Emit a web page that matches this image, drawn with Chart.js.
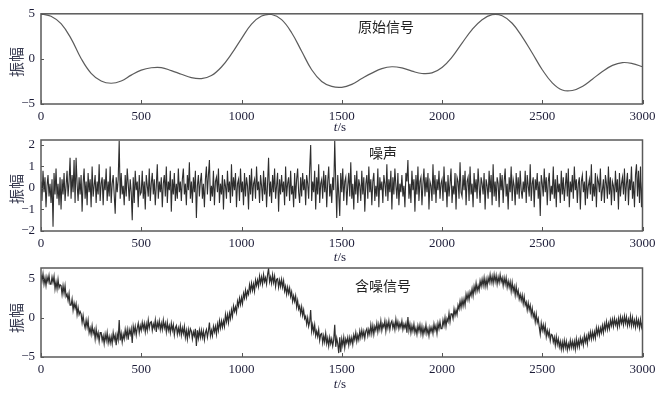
<!DOCTYPE html>
<html>
<head>
<meta charset="utf-8">
<script src="https://cdn.jsdelivr.net/npm/chart.js@4/dist/chart.umd.min.js"></script>
<style>
  html, body { margin: 0; padding: 0; background: #fff; }
  #wrap { position: relative; width: 666px; height: 395px; }
  #wrap canvas { position: absolute; left: 0; top: 0; }
</style>
</head>
<body>
<div id="wrap">
  <canvas id="c1" width="666" height="395"></canvas>
  <canvas id="c2" width="666" height="395"></canvas>
  <canvas id="c3" width="666" height="395"></canvas>
</div>
<script>
// x axis ticks (time, s)
const timeTicks = [0, 500, 1000, 1500, 2000, 2500, 3000];

// original signal, one value every 50 s
const signalStep = 50;
const signalValues = [
  5.0, 4.72, 3.9, 2.25, 0.05, -1.6, -2.45, -2.7, -2.45, -1.8,
  -1.25, -0.98, -0.96, -1.3, -1.7, -2.08, -2.18, -1.85, -0.9, 0.55,
  2.25, 3.85, 4.75, 4.92, 4.35, 2.9, 0.85, -1.2, -2.5, -3.05,
  -3.15, -2.82, -2.18, -1.58, -1.08, -0.87, -1.0, -1.35, -1.62, -1.55,
  -0.95, 0.2, 1.75, 3.25, 4.35, 4.9, 4.78, 3.95, 2.45, 0.65,
  -1.2, -2.65, -3.45, -3.5, -3.05, -2.25, -1.4, -0.72, -0.41, -0.52,
  -0.87
];

// noise, one value every 5 s
const noiseStep = 5;
const noiseValues = [
  0.3, -0.6, 0.8, -0.2, 0.5, -0.9, 0.1, 0.6, -0.4, 0.2, -0.7, 0.4, -1.8, 0.7, -0.3, 0.9, -0.5, 0.2, -0.8, 0.5,
  -1.0, 0.4, -0.3, 0.7, -0.6, 0.1, 0.8, -0.4, 0.3, 1.4, -0.5, 0.6, -0.2, 1.3, -0.7, 1.4, 0.2, -0.6, 0.5, -0.3,
  0.6, -1.1, 0.2, 0.9, -0.5, 0.3, -0.8, 0.7, -0.2, 0.4, -0.9, 1.0, -0.4, 0.1, 0.6, -0.7, 0.3, -0.3, 1.1, -0.6,
  0.2, 0.5, -0.8, 0.4, -0.1, 0.9, -0.6, 0.3, -0.4, 1.0, -0.7, 0.2, 0.6, -0.3, -1.2, 0.5, -0.2, 0.4, 2.2, -0.5,
  0.7, -0.3, 0.1, -0.8, 0.6, -0.4, 0.9, 0.2, -0.6, 0.4, -0.2, -1.5, 0.5, -0.7, 0.8, -0.1, 0.3, -0.9, 0.6, -0.3,
  -0.2, 0.8, -0.5, 0.3, -1.0, 0.6, 0.1, -0.4, 0.9, -0.6, 0.2, 0.7, -0.3, 0.4, -0.8, 0.1, 1.1, -0.5, 0.3, -0.2,
  0.5, -0.9, 0.2, 0.6, -0.4, 1.0, -0.7, 0.3, -0.1, 0.8, -1.1, 0.4, -0.3, 0.7, -0.6, 0.2, -0.5, 0.9, -0.2, 0.3,
  -0.6, 0.4, 0.9, -0.3, 0.2, -0.8, 0.6, -0.1, 1.2, -0.5, 0.3, -0.7, 0.5, -0.2, 0.8, -1.4, 0.1, 0.6, -0.4, 0.3,
  0.7, -0.5, 0.2, -0.9, 0.4, 1.0, -0.3, 0.6, 1.3, -0.6, 0.1, -0.4, 0.8, -0.8, 0.3, 0.5, -0.2, 0.9, -0.7, 0.2,
  -0.3, 0.6, -1.0, 0.4, 0.1, -0.5, 0.8, -0.2, 0.3, -0.7, 1.1, -0.4, 0.5, -0.1, 0.7, -0.9, 0.2, 0.4, -0.6, 0.9,
  -0.2, 0.3, -0.8, 0.7, -0.4, 0.5, 0.1, -1.0, 0.6, -0.3, 0.9, -0.6, 0.2, 0.4, -0.5, 1.0, -0.1, 0.3, -0.7, 0.6,
  0.1, -0.6, 0.8, -0.3, 0.5, -0.9, 0.2, 1.4, -0.4, 0.3, -0.7, 0.6, -0.2, 0.9, -0.5, 0.1, 0.7, -1.1, 0.4, -0.3,
  0.6, -0.2, 0.3, -0.8, 1.0, -0.4, 0.2, 0.5, -0.6, 0.8, -0.3, 0.1, -0.9, 0.7, -0.5, 0.4, 0.9, -0.2, -0.7, 0.5,
  -0.4, 0.7, -0.1, 0.4, -0.8, 0.6, 0.2, -0.5, 0.9, 2.0, -0.6, 0.3, -0.2, 0.8, -1.0, 0.5, -0.3, 1.1, -0.7, 0.2,
  0.4, -0.5, 0.8, -0.2, 0.6, -0.9, 0.3, 1.0, -0.4, 0.2, -0.7, 0.5, -0.1, 2.2, 0.3, -1.4, 0.6, -0.3, -1.3, 0.7,
  -0.2, 0.9, -0.6, 0.3, 0.5, -0.8, 0.1, 0.7, -0.4, 1.2, -0.5, 0.2, -1.0, 0.6, -0.3, 0.8, -0.7, 0.4, 0.1, -0.6,
  0.8, -0.3, 0.5, -1.1, 0.2, 0.6, -0.5, 1.0, -0.2, 0.4, -0.8, 0.3, 0.7, -0.6, 0.1, -0.4, 0.9, -0.9, 0.5, -0.1,
  0.3, -0.7, 0.6, 0.2, -0.4, 1.1, -0.6, 0.4, -0.2, 0.8, -1.0, 0.5, -0.3, 0.9, 0.1, -0.5, 0.7, -0.8, 0.2, -0.2,
  0.6, -0.4, 0.1, -0.9, 0.7, 0.3, 1.3, -0.5, 0.2, -0.7, 0.8, -0.1, 0.4, -1.1, 0.6, -0.3, 1.0, -0.6, 0.3, 0.5,
  -0.8, 0.2, 0.9, -0.4, 0.5, -0.2, 0.7, -1.0, 0.3, 0.1, -0.6, 1.1, -0.3, 0.6, -0.7, 0.4, -0.1, 0.8, -0.5, 0.2,
  0.4, -0.6, 1.0, -0.2, 0.3, -0.9, 0.6, -0.4, 0.2, 0.9, -0.7, 0.1, -0.3, 0.7, -1.0, 0.5, 0.3, -0.5, 1.2, -0.2,
  -0.4, 0.6, -0.1, 0.8, -0.8, 0.3, 0.5, -0.6, 1.0, -0.3, 0.2, -0.9, 0.7, -0.2, 0.4, -0.5, 0.9, 0.1, -0.7, 0.5,
  0.2, -0.3, 0.7, -1.0, 0.4, 0.1, -0.5, 0.8, -0.2, 0.6, -0.8, 1.1, -0.4, 0.3, -0.6, 0.5, 0.2, -0.9, 0.7, -0.1,
  0.6, -0.7, 0.3, 0.9, -0.4, 0.2, -1.0, 0.5, -0.2, 1.0, -0.6, 0.4, 0.1, -0.8, 0.7, -0.3, 0.5, -0.5, 0.8, -0.1,
  -0.5, 0.3, -0.2, 0.8, -0.7, 0.6, 0.1, -0.4, 1.1, -0.6, 0.2, 0.5, -0.9, 0.4, -0.1, 0.7, -0.5, 0.3, -1.3, 0.6,
  0.2, -0.4, 0.9, -0.2, 0.5, -0.8, 0.3, 0.7, -0.6, 0.1, -0.3, 1.0, -0.5, 0.4, -0.9, 0.6, -0.2, 0.2, -0.7, 0.8,
  -0.3, 0.5, -0.6, 0.1, 0.7, -0.4, 0.9, -0.9, 0.3, -0.2, 0.6, -0.5, 1.0, -0.1, 0.4, -0.7, 0.2, 0.5, -1.0, 0.3,
  0.6, -0.2, 0.3, -0.8, 0.8, -0.5, 0.1, 0.4, -0.3, 1.1, -0.6, 0.2, -0.4, 0.7, -0.9, 0.5, 0.3, -0.2, 0.9, -0.6,
  -0.1, 0.4, -0.7, 0.6, 0.2, -0.5, 1.0, -0.3, 0.5, -0.8, 0.3, 0.1, -0.6, 0.8, -0.2, 0.4, -1.0, 0.7, -0.4, 0.2,
  0.5, -0.3, 0.9, -0.6, 0.2, 0.7, -0.8, 0.4, -0.1, 1.0, -0.5, 0.3, -0.9, 0.6, 1.1, -0.4, 0.8, -0.7, 1.0, -0.9,
  0.3
];

// noisy signal, one value every 5 s
const noisyStep = 5;
const noisyValues = [
  5.5, 4.7, 5.6, 4.3, 5.1, 4.1, 5.2, 4.6, 5.4, 4.3,
  4.3, 5.2, 4.5, 5.3, 3.7, 4.6, 3.7, 4.9, 3.8, 4.2,
  4.1, 3.0, 4.1, 3.1, 4.1, 2.7, 3.0, 2.2, 3.1, 1.6,
  1.6, 2.4, 1.0, 1.9, 1.2, 1.8, 0.4, 1.3, 0.4, 0.8,
  0.5, -0.6, 0.3, -0.7, -1.3, -0.3, -1.2, -0.3, -1.9, -1.3,
  -2.1, -1.0, -2.0, -1.5, -2.7, -1.4, -2.5, -1.9, -3.0, -1.9,
  -1.9, -2.9, -2.3, -3.3, -2.1, -2.9, -1.9, -3.2, -2.4, -3.2,
  -2.4, -3.3, -1.9, -2.8, -2.2, -3.5, -2.1, -2.8, -0.3, -2.9,
  -2.0, -3.1, -2.1, -2.7, -1.5, -2.4, -1.5, -2.8, -1.5, -2.1,
  -1.4, -3.2, -1.1, -1.9, -1.1, -2.2, -1.3, -0.7, -1.9, -1.0,
  -1.6, -0.6, -1.4, -0.7, -1.8, -0.8, -1.6, -0.3, -1.3, -0.6,
  -0.5, -1.6, -0.8, -1.3, -0.3, -1.8, -0.6, -1.2, -0.4, -1.5,
  -0.7, -1.5, -0.3, -1.3, -0.7, -1.8, -0.6, -1.6, -1.0, -1.9,
  -0.7, -1.6, -0.9, -2.2, -1.3, -1.0, -2.1, -1.3, -2.0, -1.0,
  -2.2, -1.3, -2.0, -1.1, -2.5, -1.6, -2.7, -1.5, -2.3, -1.4,
  -1.7, -2.7, -1.8, -2.3, -1.4, -3.6, -1.6, -2.6, -1.6, -2.5,
  -1.6, -2.5, -1.7, -2.8, -1.9, -1.5, -2.5, -1.7, -0.6, -2.3,
  -1.6, -2.3, -1.1, -1.8, -1.1, -2.1, -0.8, -1.6, -0.4, -1.3,
  -0.4, -1.2, -0.4, -1.1, 0.4, -0.5, 0.4, -0.6, 0.6, -0.1,
  1.0, 0.2, 1.5, 0.8, 1.4, 0.7, 2.1, 1.5, 2.5, 1.7,
  2.6, 1.8, 3.1, 2.5, 3.5, 2.6, 3.4, 3.0, 4.2, 3.4,
  4.4, 3.5, 4.3, 3.4, 4.8, 4.1, 4.8, 4.0, 5.3, 4.4,
  5.2, 4.3, 5.5, 4.6, 5.1, 4.3, 5.5, 6.3, 4.6, 5.2,
  4.4, 5.5, 4.5, 5.3, 4.0, 4.9, 5.0, 3.9, 4.8, 4.0,
  4.9, 3.9, 4.7, 3.4, 4.0, 3.0, 3.9, 3.1, 3.8, 2.7,
  3.3, 2.1, 2.8, 2.1, 2.8, 1.4, 2.2, 1.1, 1.5, 0.5,
  1.4, 0.3, 1.0, -0.1, 0.2, -0.8, 0.0, -1.1, -0.5, 1.0,
  -1.7, -0.9, -1.8, -0.9, -2.3, -1.7, -2.4, -1.5, -2.9, -2.1,
  -2.0, -3.2, -2.3, -3.1, -2.0, -3.3, -2.6, -3.6, -2.5, -3.3,
  -2.7, -3.6, -2.8, -0.9, -3.7, -2.6, -3.3, -4.5, -2.5, -4.4,
  -2.7, -3.5, -2.5, -3.8, -2.7, -3.2, -2.5, -3.5, -2.5, -3.2,
  -2.5, -3.4, -2.2, -2.8, -1.9, -3.0, -2.2, -2.8, -1.7, -2.5,
  -1.6, -2.4, -1.7, -2.6, -1.7, -1.4, -2.3, -1.5, -2.1, -0.9,
  -2.0, -1.0, -2.1, -1.1, -1.6, -0.7, -1.8, -0.8, -1.5, -0.4,
  -1.6, -0.8, -1.2, -0.4, -1.7, -0.6, -1.3, -0.4, -1.5, -0.7,
  -0.4, -1.3, -0.7, -1.5, -0.2, -1.2, -0.5, -1.4, -0.7, -1.2,
  -0.4, -1.5, -0.8, -1.3, -0.7, -1.9, 0.1, -1.6, -0.8, -1.9,
  -1.0, -1.7, -0.8, -1.9, -1.3, -2.1, -1.0, -1.7, -0.9, -2.0,
  -1.1, -2.2, -1.3, -1.9, -0.9, -2.0, -1.4, -2.3, -1.2, -1.8,
  -1.2, -2.0, -0.8, -1.6, -1.0, -2.0, -0.7, -1.4, -0.5, -1.4,
  -1.4, -0.3, -1.0, 0.0, -1.1, -0.1, -0.5, 0.6, -0.5, 0.5,
  0.5, -0.1, 1.1, 0.3, 1.0, 0.4, 1.6, 1.1, 2.1, 1.3,
  2.3, 1.5, 2.4, 1.6, 3.0, 2.3, 3.1, 2.3, 3.3, 2.8,
  3.7, 2.8, 4.0, 3.3, 4.4, 3.4, 4.1, 3.5, 4.7, 4.0,
  4.9, 4.1, 5.1, 4.0, 4.9, 4.0, 5.1, 4.5, 5.5, 4.5,
  5.3, 4.4, 5.5, 4.6, 5.4, 4.3, 5.2, 4.5, 5.5, 4.6,
  5.1, 4.1, 5.1, 4.3, 5.1, 3.9, 4.7, 3.9, 4.6, 3.4,
  4.5, 3.4, 4.0, 2.9, 4.0, 2.9, 3.5, 2.4, 3.0, 2.2,
  2.9, 1.8, 2.7, 1.6, 2.0, 1.0, 1.9, 1.0, 1.6, 0.4,
  1.2, 0.1, 0.6, -0.5, 0.5, -0.6, -0.1, -1.2, -2.1, -0.7,
  -1.6, -0.9, -1.8, -1.0, -2.4, -1.6, -2.3, -1.7, -2.9, -2.1,
  -2.2, -3.1, -2.5, -3.5, -2.4, -3.4, -2.7, -3.7, -3.0, -4.0,
  -3.1, -4.0, -2.9, -3.8, -3.0, -4.1, -3.3, -3.9, -2.9, -3.8,
  -3.0, -3.8, -3.0, -4.0, -2.7, -3.7, -2.9, -3.7, -2.6, -3.3,
  -2.7, -3.5, -2.3, -3.1, -2.4, -3.3, -2.1, -2.7, -1.8, -2.7,
  -1.8, -2.6, -1.8, -2.6, -1.3, -2.1, -1.3, -2.2, -1.3, -1.9,
  -1.0, -1.9, -0.8, -1.5, -0.5, -1.5, -0.7, -1.4, -0.3, -1.0,
  -0.2, -1.1, -0.1, -0.9, -0.3, -1.2, -0.1, -1.0, 0.1, -0.7,
  0.0, -0.9, 0.2, -0.7, 0.1, -1.0, -0.2, -0.9, 0.2, -1.0,
  0.0, -1.0, -0.3, -1.2, -0.1, -1.0, -0.3, -1.3, -0.2, -1.2,
  -0.6
];

const W = 666, H = 395;
const LEFT = 41, RIGHT = 642.5, XH = 20;
const tickFont = { family: '"Liberation Serif", "Times New Roman", serif', size: 13 };
const tickColor = '#1c1c38';

function toPoints(values, step) {
  return values.map((v, i) => ({ x: i * step, y: v }));
}

const decorPlugin = {
  id: 'decor',
  afterDraw(chart, args, opts) {
    const { ctx, chartArea: a, scales } = chart;
    ctx.save();
    // inward tick marks
    ctx.strokeStyle = '#555';
    ctx.lineWidth = 1;
    ctx.beginPath();
    scales.x.ticks.forEach(t => {
      const px = Math.round(scales.x.getPixelForValue(t.value)) + 0.5;
      ctx.moveTo(px, a.bottom);
      ctx.lineTo(px, a.bottom - 4);
    });
    scales.y.ticks.forEach(t => {
      const py = Math.round(scales.y.getPixelForValue(t.value)) + 0.5;
      ctx.moveTo(a.left, py);
      ctx.lineTo(a.left + 3, py);
    });
    ctx.stroke();
    // frame
    ctx.strokeStyle = '#5a5a5a';
    ctx.lineWidth = 1.5;
    ctx.strokeRect(a.left, a.top, a.right - a.left, a.bottom - a.top);
    // panel title
    ctx.fillStyle = '#222';
    ctx.font = '14px "Noto Sans CJK SC", sans-serif';
    ctx.textAlign = 'center';
    ctx.textBaseline = 'middle';
    ctx.fillText(opts.title, opts.titleX, opts.titleY);
    // y label, rotated
    ctx.save();
    ctx.translate(16, opts.ylabelY);
    ctx.rotate(-Math.PI / 2);
    ctx.fillStyle = '#3a3d52';
    ctx.font = '15px "Noto Sans CJK SC", sans-serif';
    ctx.fillText('振幅', 0, 0);
    ctx.restore();
    // x label t/s
    ctx.fillStyle = tickColor;
    ctx.textAlign = 'left';
    const italic = 'italic 13px "Liberation Serif", serif';
    const normal = '13px "Liberation Serif", serif';
    ctx.font = italic;
    const w1 = ctx.measureText('t').width;
    ctx.font = normal;
    const w2 = ctx.measureText('/s').width;
    const x0 = opts.xlabelX - (w1 + w2) / 2;
    ctx.font = italic;
    ctx.fillText('t', x0, opts.xlabelY);
    ctx.font = normal;
    ctx.fillText('/s', x0 + w1, opts.xlabelY);
    ctx.restore();
  }
};

function makeChart(id, cfg) {
  return new Chart(document.getElementById(id), {
    type: 'line',
    data: {
      datasets: [{
        data: cfg.points,
        borderColor: cfg.color,
        borderWidth: cfg.width,
        pointRadius: 0,
        tension: cfg.tension,
        fill: false
      }]
    },
    options: {
      responsive: false,
      animation: false,
      events: [],
      layout: {
        padding: { top: cfg.top, bottom: H - cfg.bottom - XH, left: 0, right: W - RIGHT }
      },
      plugins: {
        legend: { display: false },
        tooltip: { enabled: false },
        decor: cfg.decor
      },
      scales: {
        x: {
          type: 'linear',
          min: 0,
          max: 3000,
          afterFit: s => { s.height = XH; },
          afterBuildTicks: s => { s.ticks = timeTicks.map(v => ({ value: v })); },
          grid: { display: false, drawTicks: false },
          border: { display: false },
          ticks: {
            font: tickFont, color: tickColor, padding: 5, maxRotation: 0,
            callback: v => String(v)
          }
        },
        y: {
          min: cfg.ymin,
          max: cfg.ymax,
          afterFit: s => { s.width = LEFT; },
          afterBuildTicks: s => { s.ticks = cfg.yticks.map(v => ({ value: v })); },
          grid: { display: false, drawTicks: false },
          border: { display: false },
          ticks: {
            font: tickFont,
            color: tickColor,
            padding: 6,
            callback: v => String(v).replace('-', '\u2212')
          }
        }
      }
    },
    plugins: [decorPlugin]
  });
}

makeChart('c1', {
  points: toPoints(signalValues, signalStep),
  color: '#5c5c5c', width: 1.2, tension: 0.4,
  top: 13, bottom: 104, ymin: -5, ymax: 5, yticks: [-5, 0, 5],
  decor: { title: '原始信号', titleX: 386, titleY: 27, ylabelY: 62, xlabelX: 340, xlabelY: 128 }
});

makeChart('c2', {
  points: toPoints(noiseValues, noiseStep),
  color: '#2e2e2e', width: 1.1, tension: 0,
  top: 140, bottom: 231, ymin: -2, ymax: 2.23, yticks: [-2, -1, 0, 1, 2],
  decor: { title: '噪声', titleX: 383, titleY: 153, ylabelY: 189, xlabelX: 340, xlabelY: 258 }
});

makeChart('c3', {
  points: toPoints(noisyValues, noisyStep),
  color: '#2e2e2e', width: 1.2, tension: 0,
  top: 268, bottom: 357, ymin: -5, ymax: 6.35, yticks: [-5, 0, 5],
  decor: { title: '含噪信号', titleX: 383, titleY: 286, ylabelY: 318, xlabelX: 340, xlabelY: 385 }
});
</script>
</body>
</html>
